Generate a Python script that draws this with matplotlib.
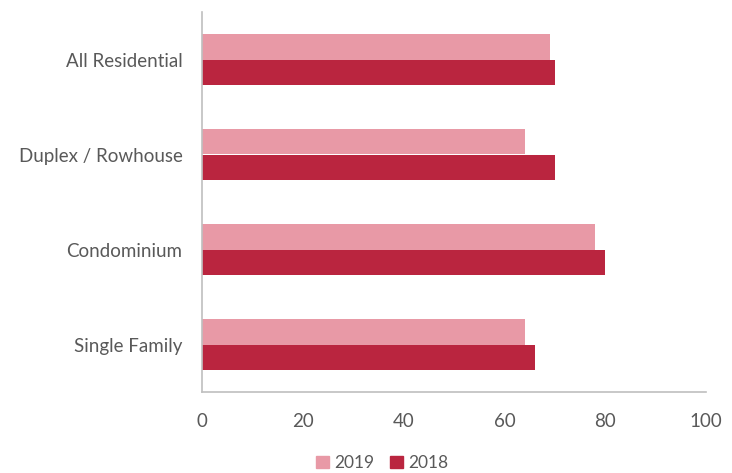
import numpy as np
import matplotlib
matplotlib.use('Agg')
import matplotlib.pyplot as plt
from matplotlib.patches import Patch

plt.rcParams['font.family'] = ['Lato', 'DejaVu Sans']

categories = ['All Residential', 'Duplex / Rowhouse', 'Condominium', 'Single Family']
pct_2019 = [69, 64, 78, 64]
pct_2018 = [70, 70, 80, 66]
xticks = [0, 20, 40, 60, 80, 100]

c_2019 = '#E899A6'
c_2018 = '#BA253F'
grey_txt = '#595959'
grey_axis = '#BFBFBF'

fig = plt.figure(figsize=(7.32, 4.73), dpi=100)
ax = fig.add_axes([202/732, 1-392/473, 504/732, 380/473])

y = np.arange(len(categories))
h = 0.268
ax.barh(y - h/2, pct_2019, height=h, color=c_2019, label='2019')
ax.barh(y + h/2, pct_2018, height=h, color=c_2018, label='2018')

ax.set_ylim(3.5, -0.5)
ax.set_xlim(0, 100)
ax.set_xticks(xticks)
ax.set_yticks(y)
ax.set_yticklabels(categories)
ax.tick_params(axis='both', length=0, labelsize=13.5, colors=grey_txt)
ax.tick_params(axis='y', pad=14)
ax.tick_params(axis='x', pad=15)
for s in ['top', 'right']:
    ax.spines[s].set_visible(False)
for s in ['left', 'bottom']:
    ax.spines[s].set_color(grey_axis)
    ax.spines[s].set_linewidth(1.2)

# title sits mostly above the canvas, only its descenders show
fig.text(217/732, 1.008, 'Listings Sold by', color='#C8102E',
         fontsize=15, fontweight='bold', va='baseline', ha='left')

handles = [Patch(color=c_2019), Patch(color=c_2018)]
fig.legend(handles, ['2019', '2018'], loc='center', bbox_to_anchor=(382/732, 1-463/473),
           ncol=2, frameon=False, fontsize=12.5, handlelength=0.75, handleheight=0.75,
           handletextpad=0.3, columnspacing=0.9, labelcolor=grey_txt)

fig.savefig('out.png', dpi=100)
